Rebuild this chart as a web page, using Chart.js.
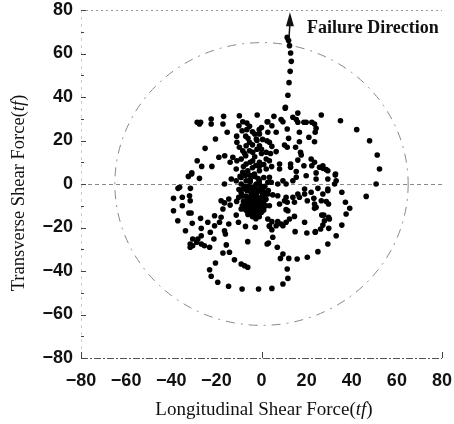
<!DOCTYPE html>
<html>
<head>
    <title>Shear Force Trace</title>
    <meta charset="UTF-8">
    <script src="https://cdn.jsdelivr.net/npm/chart.js"></script>
    <style>
        html, body { margin: 0; padding: 0; background: #fff; }
        #wrap { width: 454px; height: 424px; }
    </style>
</head>
<body>
<div id="wrap"><canvas id="shearChart" width="454" height="424"></canvas></div>
<script>
// longitudinal (x) and transverse (y) shear force, tf
const longShear = [
    11.4, 12, 12.4, 12.9, 13.2, 12.7, 12.2, 11.7, 10.6,
    -28.5, -27, -27.5, -22.3, -22.3, -16.8, -17.1, -15.2, -9.8, -10, -8.3, -6.5, -5.3, -6.5, -8.6, -1.9, 2.8,
    -20.4, -25, -28.5, -26.5, -22, -18.9, -16.3, -30.9, -32.4, -27.5, -36.3, -31.5, -31, -37,
    -10.9, -9.8, -8.3, -6.8, -5.3, -5.3, -3.9, -0.9, -2.3, -0.9, 2.4, 2.8,
    -12.7, -10.9, -13.9, -9, -6.8, -3.9, -0.9, 2.1,
    -11.2, -8.3, -6.1, -3.1, -0.9, 2.1,
    -13.4, -11.2, -9, -6.8, -5.3, -2.3, 0.6, 2.8, -16.4,
    -7, -4, 0, -3, -8, -1, -5, 1, -7, -2, 0, -4, -9.5, -1.5, 0.5, -11, 4, 4.5,
    -4, -2, 0, -6, -3, -1, -5, -2.5, 1, -7.5,
    10.5, 16.1, 5.5, 8.7, 9.5, 13.9, 15.4, 16.1, 18.8, 19.8, 22.3, 23.5, 24.2, 23.8, 26.5, 35, 42.2, 47.9, 51.3, 52.3, 50.8,
    2.5, 4.6, 6.5, 11.4, 12, 16.8, 21, 23.5, 10.2, 11.4, 16.8, 17.3, 17.6, 15.1, 3.5, 4.6, 2.1, 6.5, 3.5, 8, 8,
    12.9, 12.9, 16.1, 15.4, 18.8, 22, 23.5, 22.3, 25.7, 27.2, 28.7, 32.7, 29.4, 24.2, 24.2, 19.8, 15.4, 13.9,
    9.5, 10.9, 7.2, 3.5, 4.3, 29.4, 25, 19.1, 32.8, 33.1, 32.4, 29.4, 27.2,
    -39, -35.1, -31.6, -39, -35.1, -32.2, -31.2, -37.1, -33.7, -30.7, -27, -23.8, -20.8, -17.9, -18.6, -20.8,
    -17.9, -16.4, -13.9, -17.1, -14.5, -11.2, -10.1, -9, -14.5, -10.2, -7.1, -2.8, -6.1, -22.7, -26.7,
    -30.5, -28.2, -26.7, -28.7, -30.5, -26.7, -25.3, -31.6, -31.6, -23, -21.1, -16.4, -16, -15.6, -17.1, -14.2,
    -20.4, -23, -22.3, -19.4, -14.6, -8.6, -1.3, -12, -9, -7.5, -6.1, 2.5, -31.9,
    -8, -6, -4, -2, 0, 1.5, -9, -7, -5, -3, -1, 1, -8, -6, -4, -2, 0, 2, -7, -5, -3, -1, -4, -6,
    -3, -1, -10, -11, 3, -2, -4.5, -6.5, -3.5, -0.5, 1, -8.5, -2.5, 0, -5, -1,
    -7.5, -6.5, -5.5, -4.5, -3.5, -2.5, -1.5, -0.5, 0.5, 1.5, -8, -6, -4, -2, 0, 2,
    -7, -5, -3, -1, 1, -6, -4, -2, 0, -9, -7, -5, -3, -1,
    -6.5, -4.5, -2.5, -0.5, 1.5, -5.5, -3.5, -1.5, 0.5, -7.5, -5, -3, -1, -8.5, -6, -2,
    2.8, 5, 7.2, 8, 10.9, 10.2, 13.9, 14.6, 16.1, 16.8, 19.1, 20.3, 22, 23.2, 23.5, 26.5, 28.7, 29.7, 27.2, 29.4,
    35.6, 46.4, 37.2, 39.1, 37.5, 35.6, 33.1, 29.4, 25, 20.3, 15.8, 12.1, 8.4, 9.5, 7, 3.1, 5, 4.6, 3.5, 2.8,
    4.6, 6.5, 8.7, 9.5, 10.9, 12.4, 11.7, 14.9, 19.1, 20.1, 23.8, 26.2, 27.2, 27.9, 27.6, 26.7, 23.5, 29.7,
    11.4, 9.5, 11.7, 4.6, 3.5, 24.2, 30.1, 29.8, 14.6, 10.9, 11.4, 7.2, 3.5, 23.9
];
const transShear = [
    67.4, 66, 63.6, 60.2, 56.4, 51.8, 46.6, 40.8, 35.3,
    28.4, 28.4, 27.6, 29.9, 27.6, 31.1, 27.6, 23.8, 31.4, 26.8, 28.6, 28, 26.5, 25, 24.5, 31.7, 28.6,
    20.7, 16.4, 10.7, 8.1, 8.1, 12.3, 13, 5.1, 3.5, 2.6, -1.5, -2, 4.6, -2,
    19.2, 16.9, 15.3, 17.6, 19.2, 15.3, 14.6, 17.6, 20.7, 23, 19.9, 23.8,
    12.3, 10.7, 10, 11.5, 9.2, 10.7, 10, 11.5,
    6.9, 5.4, 6.1, 4.6, 6.1, 6.9,
    2.3, 1.5, 0, 1.5, -1.5, 0, -2.3, 0.8, 0,
    22, 24, 26, 12.5, 8, 8, 4, 3, 13, 16, 14, 7.5, 3.5, 2.5, 20.5, 22, 14, 8,
    18, 20, 16, 21, 23, 25, 10, 8.5, 9, 14,
    34.8, 32.6, 31.1, 29.6, 28.6, 30.7, 29.6, 28.4, 28.4, 28.4, 28.4, 27.6, 25.6, 23.8, 31.7, 29.1, 25, 19.9, 13.3, 6.9, 0,
    28.6, 26.8, 23.8, 25.3, 21, 23.8, 21.5, 19.4, 17.9, 16.9, 19.4, 14.6, 13.3, 16.9, 19.2, 17.3, 14.6, 14.9, 10.7, 9.2, 6.9,
    9.2, 7.7, 11, 5.7, 8.4, 11.5, 10, 8.4, 7.7, 7.2, 6.6, 4.1, 2.3, 5.1, 2.3, 3.8, 3.1, 1.5,
    1.5, 0, 0, 3.1, 0.8, -2.3, -2, -2.3, 4.6, 1.5, 0, 6.1, 8.4,
    -6.6, -6.1, -7.7, -12.3, -10, -13.3, -13.3, -16.9, -21.5, -18.1, -15.8, -17.6, -14.6, -15.3, -17.6, -19.2,
    -7.7, -8.7, -9.7, -11.5, -6.9, -14.3, -6.1, -11.5, -18.4, -17.6, -19.5, -19.9, -26.5, -22.2, -20.4,
    -25.3, -25.3, -23.8, -26.8, -28.4, -27.6, -28.4, -27.6, -29.1, -29.1, -25.3, -21.5, -23, -28, -31.7, -31.4,
    -36.3, -39.4, -42.4, -45.2, -47, -48.3, -48.3, -34.8, -36.8, -37.6, -38.3, -27.6, -5.4,
    -2, -3, -2.5, -4, -3.5, -5, -4, -5.5, -6, -7, -6.5, -8, -8, -9, -9.5, -10, -11, -10, -12, -12.5, -13, -13.5, -15, -1,
    -1.5, 0.5, -2.5, -8, -3, -6, -4.5, -7.5, -11, -9, -12, -10, -16, -1, 1, -15,
    -1, -3, -2, -5, -4, -6, -3, -7, -5, -4, -11, -10.5, -12, -11.5, -13, -7,
    -9, -8, -10, -8.5, -9.5, -14, -13.5, -14.5, -12.5, 3, 4, 2, 3.5, 1.5,
    -2.5, -1.5, -0.5, -2, -1, -6.5, -8, -7.5, -6, -10.5, -11, -10, -12, -5.5, -13, -8.5,
    -4.6, -5, -5.4, -9.2, -6.1, -7.7, -6.1, -8.4, -4.6, -6.1, -4.6, -7.7, -3.8, -6.6, -9.2, -7.7, -8.1, -9.2, -4.6, -3.1,
    -3.8, -5.7, -8.4, -11.2, -13.8, -18.9, -23.8, -27.6, -31.1, -33.7, -34.5, -34.2, -34.2, -32.2, -29.1, -27.1, -24.5, -21, -19.2, -16.1,
    -17.3, -19.2, -18.4, -19.2, -17.6, -16.1, -12.3, -21.9, -17.6, -22.5, -22.2, -20.7, -18.9, -16.9, -14.3, -14.3, -11.2, -15.3,
    -39.1, -46, -43.4, -48, -10, -10.7, -16.1, -20.4, -14.9, -11.8, -8.4, -17.3, -19.4, -21.9
];

const axisMin = -80;
const axisMax = 80;
const minorTicks = [-70, -50, -30, -10, 10, 30, 50, 70];
const envelopeRadius = 65;          // dashed circle, tf
const arrowFrom = [12.2, 67];
const arrowTip = [12.6, 79];
const failureLabel = 'Failure Direction';

const points = longShear.map((x, i) => ({ x: x, y: transShear[i] }));

function minusSign(v) {
    return String(v).replace('-', '\u2212');
}

// draw a string made of [text, font] pieces centred on (cx, cy)
function drawPieces(ctx, pieces, cx, cy) {
    let total = 0;
    pieces.forEach(p => { ctx.font = p[1]; total += ctx.measureText(p[0]).width; });
    let x = cx - total / 2;
    ctx.textAlign = 'left';
    ctx.textBaseline = 'middle';
    pieces.forEach(p => {
        ctx.font = p[1];
        ctx.fillText(p[0], x, cy);
        x += ctx.measureText(p[0]).width;
    });
}

const decor = {
    id: 'decor',
    beforeDatasetsDraw(chart) {
        const ctx = chart.ctx;
        const xs = chart.scales.x, ys = chart.scales.y;
        const a = chart.chartArea;
        ctx.save();

        // top frame, dotted
        ctx.strokeStyle = '#999';
        ctx.lineWidth = 1;
        ctx.setLineDash([2, 3]);
        ctx.beginPath();
        ctx.moveTo(a.left, a.top + 0.5);
        ctx.lineTo(a.right, a.top + 0.5);
        ctx.stroke();

        // left axis, faint
        ctx.strokeStyle = '#ccc';
        ctx.setLineDash([3, 4]);
        ctx.beginPath();
        ctx.moveTo(a.left + 0.5, a.top);
        ctx.lineTo(a.left + 0.5, a.bottom);
        ctx.stroke();

        // bottom axis, dashed
        ctx.strokeStyle = '#555';
        ctx.setLineDash([7, 2, 2, 2]);
        ctx.beginPath();
        ctx.moveTo(a.left, a.bottom + 0.5);
        ctx.lineTo(a.right, a.bottom + 0.5);
        ctx.stroke();

        // zero line
        ctx.strokeStyle = '#888';
        ctx.setLineDash([4, 3]);
        const y0 = Math.round(ys.getPixelForValue(0)) + 0.5;
        ctx.beginPath();
        ctx.moveTo(a.left, y0);
        ctx.lineTo(a.right, y0);
        ctx.stroke();

        // envelope circle
        const cx = xs.getPixelForValue(0), cy = ys.getPixelForValue(0);
        const rx = xs.getPixelForValue(envelopeRadius) - cx;
        const ry = cy - ys.getPixelForValue(envelopeRadius);
        ctx.strokeStyle = '#888';
        ctx.setLineDash([9, 6, 2, 6]);
        ctx.beginPath();
        ctx.ellipse(cx, cy, rx, ry, 0, 0, Math.PI * 2);
        ctx.stroke();

        // tick marks
        ctx.setLineDash([]);
        ctx.strokeStyle = '#444';
        ys.ticks.forEach(t => {
            const py = Math.round(ys.getPixelForValue(t.value)) + 0.5;
            ctx.beginPath();
            ctx.moveTo(a.left, py);
            ctx.lineTo(a.left + 5, py);
            ctx.stroke();
        });
        minorTicks.forEach(v => {
            const py = Math.round(ys.getPixelForValue(v)) + 0.5;
            ctx.beginPath();
            ctx.moveTo(a.left, py);
            ctx.lineTo(a.left + 3, py);
            ctx.stroke();
        });
        [axisMin, 0, axisMax].forEach(v => {
            const px = Math.round(xs.getPixelForValue(v)) + 0.5;
            ctx.beginPath();
            ctx.moveTo(px, a.bottom);
            ctx.lineTo(px, a.bottom - 6);
            ctx.stroke();
        });
        ctx.restore();
    },
    afterDraw(chart) {
        const ctx = chart.ctx;
        const xs = chart.scales.x, ys = chart.scales.y;
        ctx.save();
        ctx.fillStyle = '#111';
        ctx.strokeStyle = '#111';

        // failure direction arrow
        const x1 = xs.getPixelForValue(arrowFrom[0]), y1 = ys.getPixelForValue(arrowFrom[1]);
        const x2 = xs.getPixelForValue(arrowTip[0]), y2 = ys.getPixelForValue(arrowTip[1]);
        ctx.lineWidth = 1.5;
        ctx.beginPath();
        ctx.moveTo(x1, y1);
        ctx.lineTo(x2, y2 + 10);
        ctx.stroke();
        ctx.beginPath();
        ctx.moveTo(x2, y2);
        ctx.lineTo(x2 - 4, y2 + 14);
        ctx.lineTo(x2 + 4, y2 + 14);
        ctx.closePath();
        ctx.fill();

        ctx.font = 'bold 18px "Liberation Serif", "Times New Roman", serif';
        ctx.textAlign = 'left';
        ctx.textBaseline = 'middle';
        ctx.fillText(failureLabel, 307, 28);

        // axis titles with italic unit
        const serif = '"Liberation Serif", "Times New Roman", serif';
        drawPieces(ctx, [
            ['Longitudinal Shear Force(', '19px ' + serif],
            ['tf', 'italic 19px ' + serif],
            [')', '19px ' + serif]
        ], 264, 410);

        ctx.translate(19, 193);
        ctx.rotate(-Math.PI / 2);
        drawPieces(ctx, [
            ['Transverse Shear Force(', '18.5px ' + serif],
            ['tf', 'italic 18.5px ' + serif],
            [')', '18.5px ' + serif]
        ], 0, 0);
        ctx.restore();
    }
};

const tickFont = { family: '"Liberation Sans", Arial, sans-serif', size: 18, weight: 'bold' };

new Chart(document.getElementById('shearChart').getContext('2d'), {
    type: 'scatter',
    data: {
        datasets: [{
            label: 'Shear force',
            data: points,
            pointRadius: 2.8,
            pointHoverRadius: 2.8,
            pointBackgroundColor: '#000',
            pointBorderWidth: 0
        }]
    },
    options: {
        responsive: false,
        animation: false,
        events: [],
        layout: { autoPadding: false, padding: { top: 10, right: 12, left: 0, bottom: 0 } },
        plugins: { legend: { display: false }, tooltip: { enabled: false } },
        scales: {
            x: {
                min: axisMin, max: axisMax,
                grid: { display: false, drawTicks: false },
                border: { display: false },
                ticks: { stepSize: 20, color: '#111', font: tickFont, padding: 12, callback: minusSign, maxRotation: 0 },
                afterFit(scale) { scale.height = 66; scale.paddingLeft = 0; scale.paddingRight = 0; }
            },
            y: {
                min: axisMin, max: axisMax,
                grid: { display: false, drawTicks: false },
                border: { display: false },
                ticks: { stepSize: 20, color: '#111', font: tickFont, padding: 8, callback: minusSign },
                afterFit(scale) { scale.width = 81; scale.paddingTop = 0; scale.paddingBottom = 0; }
            }
        }
    },
    plugins: [decor]
});
</script>
</body>
</html>
